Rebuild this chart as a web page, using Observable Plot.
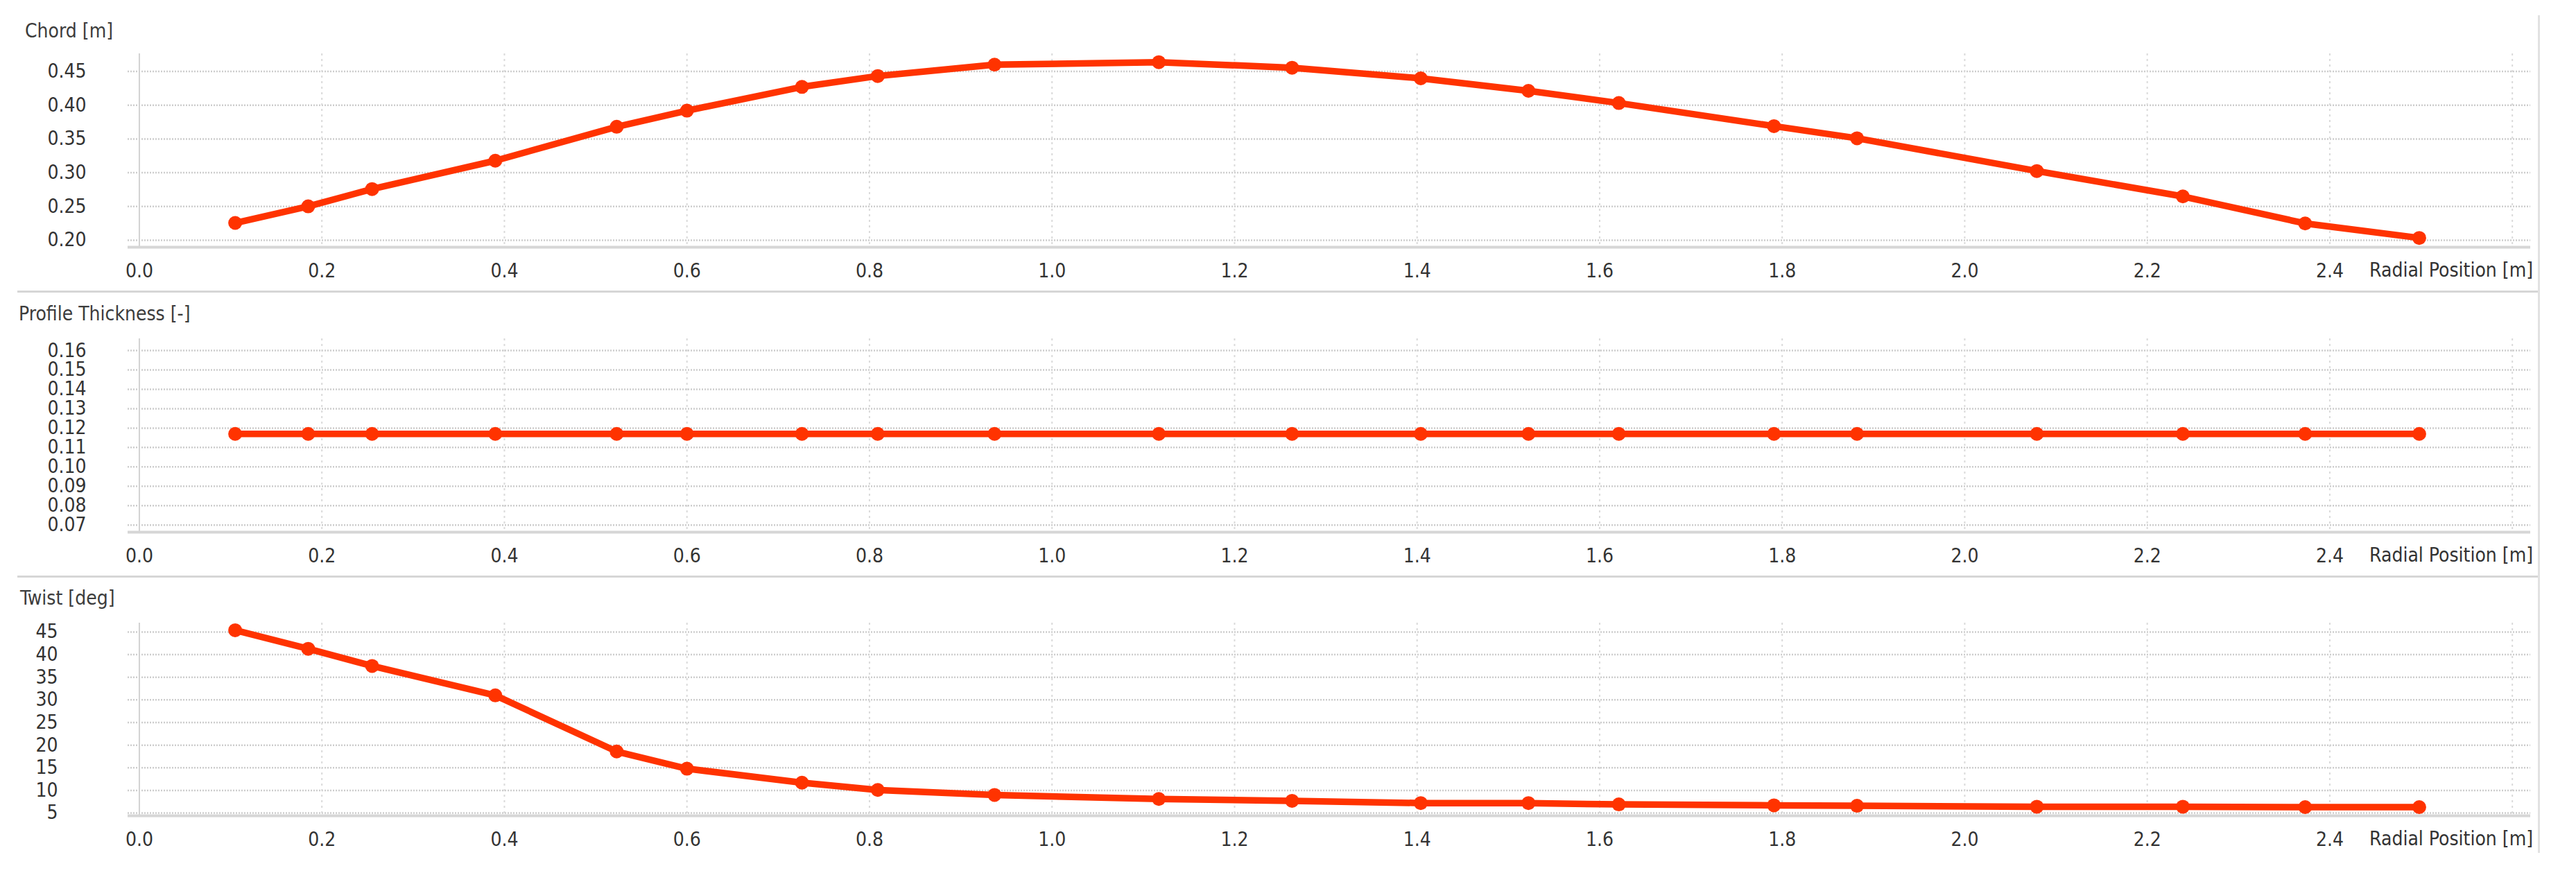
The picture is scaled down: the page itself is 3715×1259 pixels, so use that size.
<!DOCTYPE html>
<html>
<head>
<meta charset="utf-8">
<script src="https://cdn.jsdelivr.net/npm/d3@7"></script>
<script src="https://cdn.jsdelivr.net/npm/@observablehq/plot@0.6"></script>
<style>
  html, body { margin: 0; padding: 0; background: #fff; }
  #root { position: relative; width: 3715px; height: 1259px; background: #fff; overflow: hidden;
          font-family: "DejaVu Sans Condensed", "Liberation Sans", sans-serif; }
  .panel { position: absolute; left: 0; }
  .title { position: absolute; font-size: 28px; line-height: 30px; color: #3c3c3c; white-space: nowrap; }
  .xlabel { position: absolute; right: 62px; font-size: 28px; line-height: 30px; color: #333; white-space: nowrap; }
  .sep { position: absolute; background: #d6d6d6; }
</style>
</head>
<body>
<div id="root"></div>
<script>
// ---- data ----
const radialPosition = [0.105, 0.185, 0.255, 0.390, 0.523, 0.600, 0.726, 0.809, 0.937, 1.117,
                        1.263, 1.404, 1.522, 1.621, 1.791, 1.882, 2.079, 2.239, 2.373, 2.498];
const chord = [0.2256, 0.2502, 0.2758, 0.3178, 0.3680, 0.3919, 0.4271, 0.4432, 0.4600, 0.4637,
               0.4555, 0.4398, 0.4213, 0.4032, 0.3690, 0.3510, 0.3025, 0.2649, 0.2249, 0.2034];
const profileThickness = [0.117, 0.117, 0.117, 0.117, 0.117, 0.117, 0.117, 0.117, 0.117, 0.117,
                          0.117, 0.117, 0.117, 0.117, 0.117, 0.117, 0.117, 0.117, 0.117, 0.117];
const twist = [45.4, 41.3, 37.5, 31.0, 18.6, 14.8, 11.7, 10.1, 9.0, 8.1,
               7.7, 7.2, 7.2, 6.9, 6.7, 6.6, 6.4, 6.4, 6.3, 6.3];

const xTickLabels = [0.0, 0.2, 0.4, 0.6, 0.8, 1.0, 1.2, 1.4, 1.6, 1.8, 2.0, 2.2, 2.4];
const xGridTicks = [0.2, 0.4, 0.6, 0.8, 1.0, 1.2, 1.4, 1.6, 1.8, 2.0, 2.2, 2.4, 2.6];
const chordTicks = [0.20, 0.25, 0.30, 0.35, 0.40, 0.45];
const thicknessTicks = [0.07, 0.08, 0.09, 0.10, 0.11, 0.12, 0.13, 0.14, 0.15, 0.16];
const twistTicks = [5, 10, 15, 20, 25, 30, 35, 40, 45];

const xDomain = [-0.0125, 2.62];
const chordDomain = [0.1897, 0.4762];
const thicknessDomain = [0.0663, 0.1661];
const twistDomain = [4.39, 46.99];

const titles = ["Chord [m]", "Profile Thickness [-]", "Twist [deg]"];
const xAxisTitle = "Radial Position [m]";

// ---- layout (styles) ----
const LINE = "#ff3300";
const FONT = '"DejaVu Sans Condensed", "Liberation Sans", sans-serif';
const panels = [
  {top: 0,   height: 420, mt: 77, mb: 64, values: chord, ticks: chordTicks, domain: chordDomain, fmt: ".2f", pad: 60,
   title: titles[0], titleLeft: 36, titleY: 45},
  {top: 420, height: 412, mt: 68, mb: 65, values: profileThickness, ticks: thicknessTicks, domain: thicknessDomain, fmt: ".2f", pad: 60,
   title: titles[1], titleLeft: 27, titleY: 453},
  {top: 832, height: 427, mt: 66, mb: 83, values: twist, ticks: twistTicks, domain: twistDomain, fmt: "d", pad: 101,
   title: titles[2], titleLeft: 29, titleY: 863}
];

const root = document.getElementById("root");

panels.forEach(p => {
  const rows = radialPosition.map((r, i) => ({r, v: p.values[i]}));
  const chart = Plot.plot({
    width: 3715,
    height: p.height,
    marginLeft: 184,
    marginRight: 66,
    marginTop: p.mt,
    marginBottom: p.mb,
    x: {domain: xDomain},
    y: {domain: p.domain},
    style: {fontFamily: FONT, fontSize: "28px", color: "#333", background: "transparent", overflow: "visible"},
    marks: [
      Plot.gridY(p.ticks, {stroke: "#cdcdcd", strokeOpacity: 1, strokeWidth: 2.5, strokeDasharray: "2,2"}),
      Plot.gridX(xGridTicks, {stroke: "#dadada", strokeOpacity: 1, strokeWidth: 2, strokeDasharray: "3,5"}),
      Plot.ruleX([0], {stroke: "#d2d2d2", strokeWidth: 2}),
      Plot.ruleY([p.domain[0]], {stroke: "#d6d6d6", strokeWidth: 4}),
      Plot.axisX(xTickLabels, {tickSize: 0, tickPadding: 24, tickFormat: ".1f", label: null, fill: "#333"}),
      Plot.axisY(p.ticks, {tickSize: 0, tickPadding: p.pad, tickFormat: p.fmt, label: null, fill: "#333"}),
      Plot.line(rows, {x: "r", y: "v", stroke: LINE, strokeWidth: 9.5, strokeLinejoin: "round", strokeLinecap: "round"}),
      Plot.dot(rows, {x: "r", y: "v", r: 10, fill: LINE, stroke: "none"})
    ]
  });
  const wrap = document.createElement("div");
  wrap.className = "panel";
  wrap.style.top = p.top + "px";
  wrap.appendChild(chart);
  root.appendChild(wrap);

  const t = document.createElement("div");
  t.className = "title";
  t.textContent = p.title;
  t.style.left = p.titleLeft + "px";
  t.style.top = (p.titleY - 15) + "px";
  root.appendChild(t);

  const xl = document.createElement("div");
  xl.className = "xlabel";
  xl.textContent = xAxisTitle;
  const axisY = p.top + p.height - p.mb;
  xl.style.top = (axisY + 34 - 15) + "px";
  root.appendChild(xl);
});

// panel separators
[[419, 25, 3638, 3], [830, 25, 3638, 3]].forEach(([top, left, w, h]) => {
  const d = document.createElement("div");
  d.className = "sep";
  Object.assign(d.style, {top: top + "px", left: left + "px", width: w + "px", height: h + "px"});
  root.appendChild(d);
});
const vb = document.createElement("div");
vb.className = "sep";
Object.assign(vb.style, {top: "22px", left: "3660px", width: "3px", height: "1208px", background: "#e2e2e2"});
root.appendChild(vb);
</script>
</body>
</html>
